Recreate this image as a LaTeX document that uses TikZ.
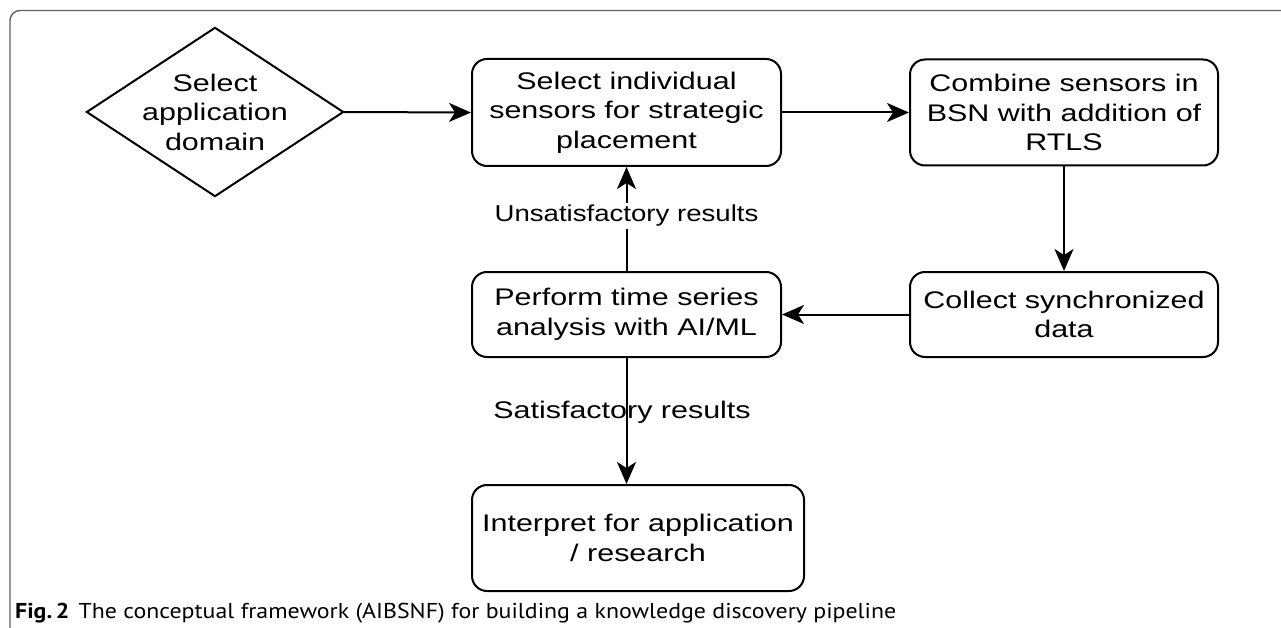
\documentclass[tikz,border=0pt]{standalone}
\usepackage{fontspec}
\setmainfont{Liberation Sans}
\newfontfamily\boxfont{Liberation Sans}[FakeStretch=1.27]
\newfontfamily\lblfont{Liberation Sans}[FakeStretch=1.2]
\newfontfamily\capfont{PT Sans}[FakeStretch=1.11]
\usetikzlibrary{shapes.geometric,arrows.meta}
\tikzset{
  stepbox/.style={draw=black, line width=2pt, rounded corners=15pt, align=center,
    inner sep=0pt, font=\boxfont\fontsize{24}{29.5}\selectfont},
  txt/.style={align=center, inner sep=0pt, font=\boxfont\fontsize{24}{29.5}\selectfont},
  diamline/.style={draw=black, line width=2pt, line join=miter},
  flow/.style={draw=black, line width=2pt, -{Stealth[length=22pt,width=19pt,inset=6pt]}},
  lbl/.style={font=\lblfont\fontsize{23}{26}\selectfont, inner sep=2pt},
  lblb/.style={font=\boxfont\fontsize{24}{26}\selectfont, inner sep=2pt},
  frameline/.style={draw=black!62, line width=1.4pt, rounded corners=10pt}
}
\begin{document}
\begin{tikzpicture}[x=1pt,y=-1pt]
\useasboundingbox (0,0) rectangle (1281,628);
\fill[white] (0,0) rectangle (1281,628);
\draw[frameline] (10,640) -- (10,10.5) -- (1290,10.5);

\node[minimum width=256pt, minimum height=168pt, inner sep=0pt] (dom) at (215,112) {};
\draw[diamline] (dom.north) -- (dom.east) -- (dom.south) -- (dom.west) -- cycle;
\node[txt] (domtxt) at (dom.center) {Select\\application\\domain};

\node[stepbox, minimum width=309pt, minimum height=107pt] (sel) at (626.5,112.5) {Select individual\\sensors for strategic\\placement};
\node[stepbox, minimum width=308pt, minimum height=106pt] (bsn) at (1064,112.5) {Combine sensors in\\BSN with addition of\\RTLS};
\node[stepbox, minimum width=308pt, minimum height=85pt] (col) at (1064,314.5) {Collect synchronized\\data};
\node[stepbox, minimum width=309pt, minimum height=85pt] (ana) at (626.5,314.5) {Perform time series\\analysis with AI/ML};
\node[stepbox, minimum width=332pt, minimum height=106pt] (int) at (638,538) {Interpret for application\\/ research};

\draw[flow] (dom.east) -- (sel.west);
\draw[flow] (sel.east) -- (bsn.west);
\draw[flow] (bsn.south) -- (col.north);
\draw[flow] (col.west) -- (ana.east);
\draw[flow] (ana.north) -- node[lbl, fill=white, pos=0.53] (uns) {Unsatisfactory results} (sel.south);
\draw[flow] (ana.south) -- (ana.south |- int.north);
\node[lblb] (sat) at (622,412) {Satisfactory results};

\node[anchor=base west, inner sep=0pt, font=\capfont\fontsize{21.5}{24}\selectfont] (cap) at (15,618)
  {\textbf{Fig.\,2}\hspace{9pt}The conceptual framework (AIBSNF) for building a knowledge discovery pipeline};
\end{tikzpicture}
\end{document}
